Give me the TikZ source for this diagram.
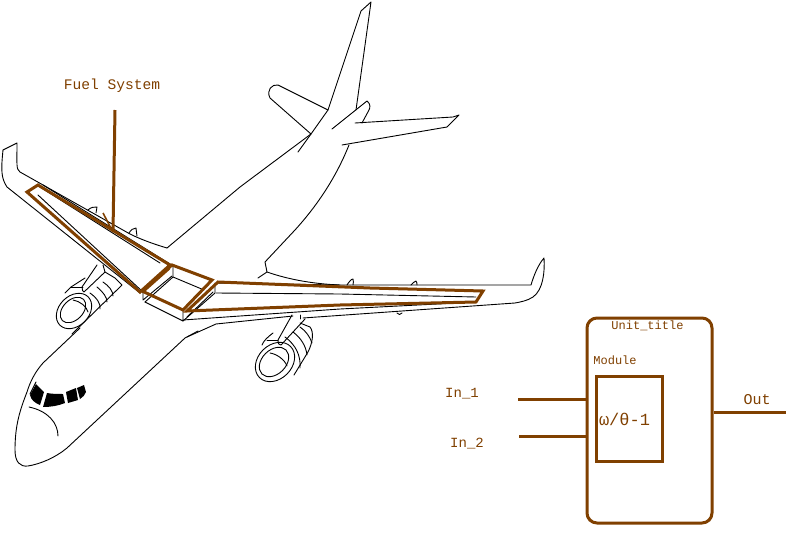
\documentclass[tikz,border=0pt]{standalone}
\usepackage{fontspec}
\setmonofont{Liberation Mono}
\definecolor{brn}{HTML}{804000}
\tikzset{
 ac/.style={draw=black,line width=0.9pt,line join=round,line cap=round},
 tank/.style={draw=brn,line width=3pt,line join=miter},
 wire/.style={draw=brn,line width=3pt},
 lbl/.style={text=brn,inner sep=0pt,font=\ttfamily\fontsize{12}{14}\selectfont},
}
\begin{document}
\begin{tikzpicture}[x=1pt,y=-1pt]
\useasboundingbox[fill=white] (0,0) rectangle (812,541);
% tail
\draw[ac] (167,248) -- (240,187) -- (311,134) -- (328,110) -- (361,11) -- (371,2) -- (356,110);
\draw[ac] (328,110) -- (278,85) .. controls (272,84) and (266,90) .. (270,98) -- (311,134) -- (298,152);
\draw[ac] (332,129) -- (367,101) .. controls (371,104) and (370,108) .. (369,110) -- (362,123);
\draw[ac] (355,123) -- (453,117) -- (459,115) -- (447,127) -- (342,145);
\draw[ac] (349,145) .. controls (335,180) and (315,208) .. (295,230) -- (265,262) -- (267,272) -- (258,278);
% left wing
\draw[ac] (167,248) .. controls (150,243) and (138,238) .. (130,234) -- (20,172) .. controls (16,169) and (17,165) .. (17,143) -- (3,150) .. controls (1,170) and (1,178) .. (7,187) -- (140,293);
\draw[ac] (43,185) -- (170,264);
\draw[ac] (40,187) -- (160,263);
\draw[ac] (38,195) -- (143,292);
\draw[ac] (143,290) -- (143,300) -- (172,276);
\draw[ac] (145,302) -- (173,277) -- (173,265);
% pods
\draw[ac] (88,210) .. controls (91,207) and (94,207) .. (97,207) .. controls (97,209) and (96,211) .. (96,213);
\draw[ac] (129,233) .. controls (131,230) and (133,228) .. (136,228) .. controls (137,231) and (136,234) .. (137,236);
\draw[ac] (347,285) .. controls (349,282) and (351,279) .. (353,279) .. controls (354,281) and (353,283) .. (353,285);
\draw[ac] (411,285) .. controls (413,283) and (415,281) .. (416,281) .. controls (417,282) and (417,284) .. (417,285);
\draw[ac] (397,313) .. controls (398,315) and (401,315) .. (402,313);
% centre box
\draw[ac] (145,302) -- (183,321) -- (183,309);
\draw[ac] (173,277) -- (204,290);
\draw[ac] (183,321) -- (215,293) -- (215,283);
\draw[ac] (187,317) -- (213,292);
% right wing
\draw[ac] (267,272) .. controls (290,280) and (315,284) .. (340,285) -- (531,285) .. controls (534,275) and (538,265) .. (544,258) .. controls (545,272) and (543,290) .. (533,297) .. controls (527,301) and (520,302) .. (515,303) -- (303,318);
\draw[ac] (216,293) -- (340,294) -- (476,297);
\draw[ac] (216,283) -- (340,285);
\draw[ac] (183,320) -- (340,309) -- (476,302);
\draw[ac] (293,316) -- (216,324) -- (187,337);
% fuselage
\draw[ac] (80,328) -- (43,363) .. controls (35,372) and (30,382) .. (27,392) .. controls (20,410) and (15,425) .. (15,450) .. controls (15,462) and (20,467) .. (28,466) .. controls (40,464) and (55,458) .. (67,448) -- (185,338) -- (198,331);
\fill (30,395) -- (36,384) -- (44,392) -- (40,405) .. controls (35,403) and (31,400) .. (30,395) -- cycle;
\fill (47,393) .. controls (52,394) and (58,394) .. (63,394) -- (65,403) .. controls (58,406) and (50,407) .. (43,407) -- cycle;
\fill (66,392) -- (76,388) -- (78,400) -- (68,403) -- cycle;
\fill (77,388) -- (84,385) -- (86,392) .. controls (85,395) and (83,397) .. (80,399) -- cycle;
\draw[ac] (36,382) -- (30,394);
\draw[ac] (29,407) .. controls (48,411) and (58,423) .. (58,436);
% right engine
\draw[ac] (262,345) .. controls (264,340) and (268,337) .. (273,333);
\draw[ac] (267,340) -- (278,340);
\draw[ac] (300,323) -- (310,327) .. controls (314,332) and (313,342) .. (308,352) -- (294,375);
\draw[ac] (285,337) .. controls (296,345) and (301,356) .. (300,368);
\draw[ac] (293,332) .. controls (301,338) and (306,346) .. (307,355);
\draw[ac] (300,327) .. controls (306,331) and (310,337) .. (312,343);
\draw[ac] (270,353) .. controls (277,354) and (285,360) .. (287,366);
\draw[ac] (275,362) ellipse[x radius=22,y radius=17,rotate=45];
\draw[ac] (274,362) ellipse[x radius=17,y radius=12,rotate=45];
\draw[ac] (292,315) -- (278,340) .. controls (278,344) and (279,345) .. (281,345) -- (305,319);
\draw[ac] (300,315) -- (300,319);
% left engine
\draw[ac] (65,293) -- (71,287) -- (85,278);
\draw[ac] (71,287) -- (83,287);
\draw[ac] (72,334) -- (122,285) -- (115,278) -- (105,272);
\draw[ac] (90,293) .. controls (97,298) and (101,304) .. (100,309);
\draw[ac] (97,287) .. controls (103,292) and (107,297) .. (107,302);
\draw[ac] (103,282) .. controls (109,286) and (113,291) .. (113,296);
\draw[ac] (73,300) .. controls (80,301) and (87,307) .. (88,312);
\draw[ac] (74,311) ellipse[x radius=20,y radius=15,rotate=45];
\draw[ac] (73,310) ellipse[x radius=15,y radius=10,rotate=45];
\draw[ac] (97,265) -- (82,287) .. controls (82,290) and (83,292) .. (84,292) -- (105,272) -- (103,265);
% tanks
\draw[tank] (27,192) -- (38,185) -- (170,265) -- (140,292) -- cycle;
\draw[tank] (172,265) -- (212,280) -- (183,310) -- (142,291) -- cycle;
\draw[tank,line width=3.5pt] (169,268) -- (142,292);
\draw[tank] (218,282) -- (370,288) -- (483,291) -- (476,302) -- (340,305) -- (187,311) -- cycle;
% pointer
\coordinate (ptrTop) at (115,110);
\coordinate (ptrEnd) at (113,232);
\coordinate (ptrBarb) at (103,213);
\draw[wire] (ptrTop) -- (ptrEnd);
\draw[draw=brn,line width=1.6pt] (ptrBarb) -- (ptrEnd);
\node[lbl,font=\ttfamily\fontsize{14.6}{16}\selectfont] (fuel) at (112,86) {Fuel System};
% block
\node[draw=brn,line width=3pt,rounded corners=10pt,minimum width=125pt,minimum height=205pt,inner sep=0pt] (unit) at (649.5,420.5) {};
\node[draw=brn,line width=3pt,minimum width=66pt,minimum height=85pt,inner sep=0pt] (module) at (629,418.5) {};
\node[lbl] (utitle) at (647.5,325.5) {Unit\_title};
\node[lbl] (mtitle) at (615,360.5) {Module};
\node[lbl,font=\ttfamily\fontsize{17}{19}\selectfont] (fn) at (624.5,419) {ω/θ-1};
\node[lbl,font=\ttfamily\fontsize{14}{16}\selectfont] (in1) at (462,394) {In\_1};
\node[lbl,font=\ttfamily\fontsize{14}{16}\selectfont] (in2) at (467,444) {In\_2};
\node[lbl,font=\ttfamily\fontsize{15}{16}\selectfont] (outl) at (757,399.5) {Out};
\coordinate (a1) at (518,399);
\coordinate (a2) at (519,436);
\coordinate (a3) at (786,412);
\draw[wire] (a1) -- (a1 -| unit.west);
\draw[wire] (a2) -- (a2 -| unit.west);
\draw[wire] (a3 -| unit.east) -- (a3);
\end{tikzpicture}
\end{document}
